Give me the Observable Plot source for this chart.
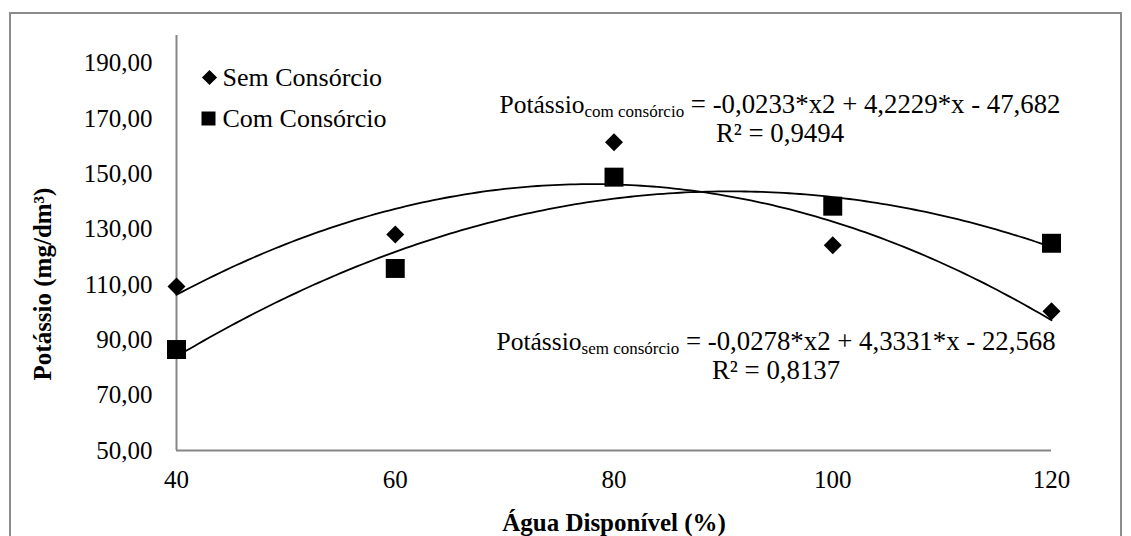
<!DOCTYPE html>
<html>
<head>
<meta charset="utf-8">
<script src="https://cdn.jsdelivr.net/npm/d3@7"></script>
<script src="https://cdn.jsdelivr.net/npm/@observablehq/plot@0.6"></script>
<style>
  body { margin: 0; background: #fff; }
  #chart { position: relative; width: 1131px; height: 536px; overflow: hidden; background: #fff; }
  #frame { position: absolute; left: 9px; top: 12px; width: 1113px; height: 620px;
           border: 2px solid #8c8c8c; box-sizing: border-box; pointer-events: none; }
  #chart svg { position: absolute; left: 0; top: 0; }
</style>
</head>
<body>
<div id="chart"><div id="frame"></div></div>
<script>
// Água disponível (%) levels
const agua = [40, 60, 80, 100, 120];
// Potássio (mg/dm³) per level
const semConsorcio = [109.3, 128.1, 161.4, 124.2, 100.3];
const comConsorcio = [86.5, 115.8, 148.8, 138.3, 124.9];
const seriesNames = ["Sem Consórcio", "Com Consórcio"];

// Quadratic trend coefficients [a, b, c] for y = a*x² + b*x + c
const coefSem = [-0.0278, 4.3331, -22.568];
const coefCom = [-0.0233, 4.2229, -47.682];
const eqSem = " = -0,0278*x2 + 4,3331*x - 22,568";
const eqCom = " = -0,0233*x2 + 4,2229*x - 47,682";
const r2Sem = "R² = 0,8137";
const r2Com = "R² = 0,9494";

const xTicks = [40, 60, 80, 100, 120];
const yTicks = [50, 70, 90, 110, 130, 150, 170, 190];

const FONT = "'Liberation Serif', 'Times New Roman', Times, serif";
const FS = 25, SUB = 17, EQ = 26.8, BASE = 25.5;

// measure text widths so the subscripted equation pieces sit side by side
const ctx = document.createElement("canvas").getContext("2d");
const measure = (s, size) => { ctx.font = `${size}px ${FONT}`; return ctx.measureText(s).width; };

const semPts = agua.map((x, i) => ({x, y: semConsorcio[i]}));
const comPts = agua.map((x, i) => ({x, y: comConsorcio[i]}));
const trend = ([a, b, c]) => d3.range(40, 120.001, 0.5).map(x => ({x, y: a * x * x + b * x + c}));

// equation label pieces: base word, subscript, equation; R² centred under the line
function equation(sub, eq, r2, dx, dy) {
  const w1 = measure("Potássio", BASE), w2 = measure(sub, SUB), w3 = measure(eq, EQ);
  const mid = dx + (w1 + w2 + w3) / 2;
  const common = {frameAnchor: "top-left", textAnchor: "start", lineAnchor: "middle", fontFamily: FONT, fill: "#000"};
  return [
    Plot.text(["Potássio"], {...common, fontSize: BASE, dx, dy}),
    Plot.text([sub], {...common, fontSize: SUB, dx: dx + w1, dy: dy + 7}),
    Plot.text([eq], {...common, fontSize: EQ, dx: dx + w1 + w2, dy}),
    Plot.text([r2], {...common, textAnchor: "middle", fontSize: EQ, dx: mid, dy: dy + 29})
  ];
}

const fmt = d => d.toFixed(2).replace(".", ",");

const chart = Plot.plot({
  width: 1131,
  height: 536,
  marginLeft: 176,
  marginRight: 80,
  marginTop: 35,
  marginBottom: 86,
  x: {domain: [40, 120]},
  y: {domain: [50, 200]},
  style: {fontFamily: FONT, fontSize: FS + "px", color: "#000", background: "transparent", overflow: "visible"},
  marks: [
    Plot.axisY({ticks: yTicks, tickSize: 0, tickPadding: 24, tickFormat: fmt, label: null, fontSize: FS, fontFamily: FONT}),
    Plot.axisX({ticks: xTicks, tickSize: 0, tickPadding: 20, tickFormat: d => String(d), label: null, fontSize: FS, fontFamily: FONT}),
    Plot.ruleX([40], {stroke: "#868686", strokeWidth: 2}),
    Plot.ruleY([50], {stroke: "#868686", strokeWidth: 2}),

    Plot.line(trend(coefSem), {x: "x", y: "y", stroke: "#000", strokeWidth: 1.8}),
    Plot.line(trend(coefCom), {x: "x", y: "y", stroke: "#000", strokeWidth: 1.8}),

    Plot.dot(semPts, {x: "x", y: "y", symbol: "diamond2", r: 8.1, fill: "#000", stroke: "none"}),
    Plot.dot(comPts, {x: "x", y: "y", symbol: "square", r: 10.7, fill: "#000", stroke: "none"}),

    // legend
    Plot.dot([seriesNames[0]], {frameAnchor: "top-left", dx: 33, dy: 42, symbol: "diamond2", r: 6.8, fill: "#000", stroke: "none"}),
    Plot.dot([seriesNames[1]], {frameAnchor: "top-left", dx: 32, dy: 83, symbol: "square", r: 7.9, fill: "#000", stroke: "none"}),
    Plot.text([seriesNames[0]], {frameAnchor: "top-left", dx: 46, dy: 42, textAnchor: "start", lineAnchor: "middle", fontSize: 26, fontFamily: FONT, fill: "#000"}),
    Plot.text([seriesNames[1]], {frameAnchor: "top-left", dx: 46, dy: 83, textAnchor: "start", lineAnchor: "middle", fontSize: 26, fontFamily: FONT, fill: "#000"}),

    // trend equations
    ...equation("com consórcio", eqCom, r2Com, 323, 69),
    ...equation("sem consórcio", eqSem, r2Sem, 320, 306),

    // axis titles
    Plot.text(["Água Disponível (%)"], {frameAnchor: "bottom", dy: 72, textAnchor: "middle", lineAnchor: "middle", fontWeight: "bold", fontSize: FS, fontFamily: FONT, fill: "#000"}),
    Plot.text(["Potássio (mg/dm³)"], {frameAnchor: "left", dx: -134, dy: 41, rotate: -90, textAnchor: "middle", lineAnchor: "middle", fontWeight: "bold", fontSize: FS, fontFamily: FONT, fill: "#000"})
  ]
});

document.getElementById("chart").appendChild(chart);
</script>
</body>
</html>
